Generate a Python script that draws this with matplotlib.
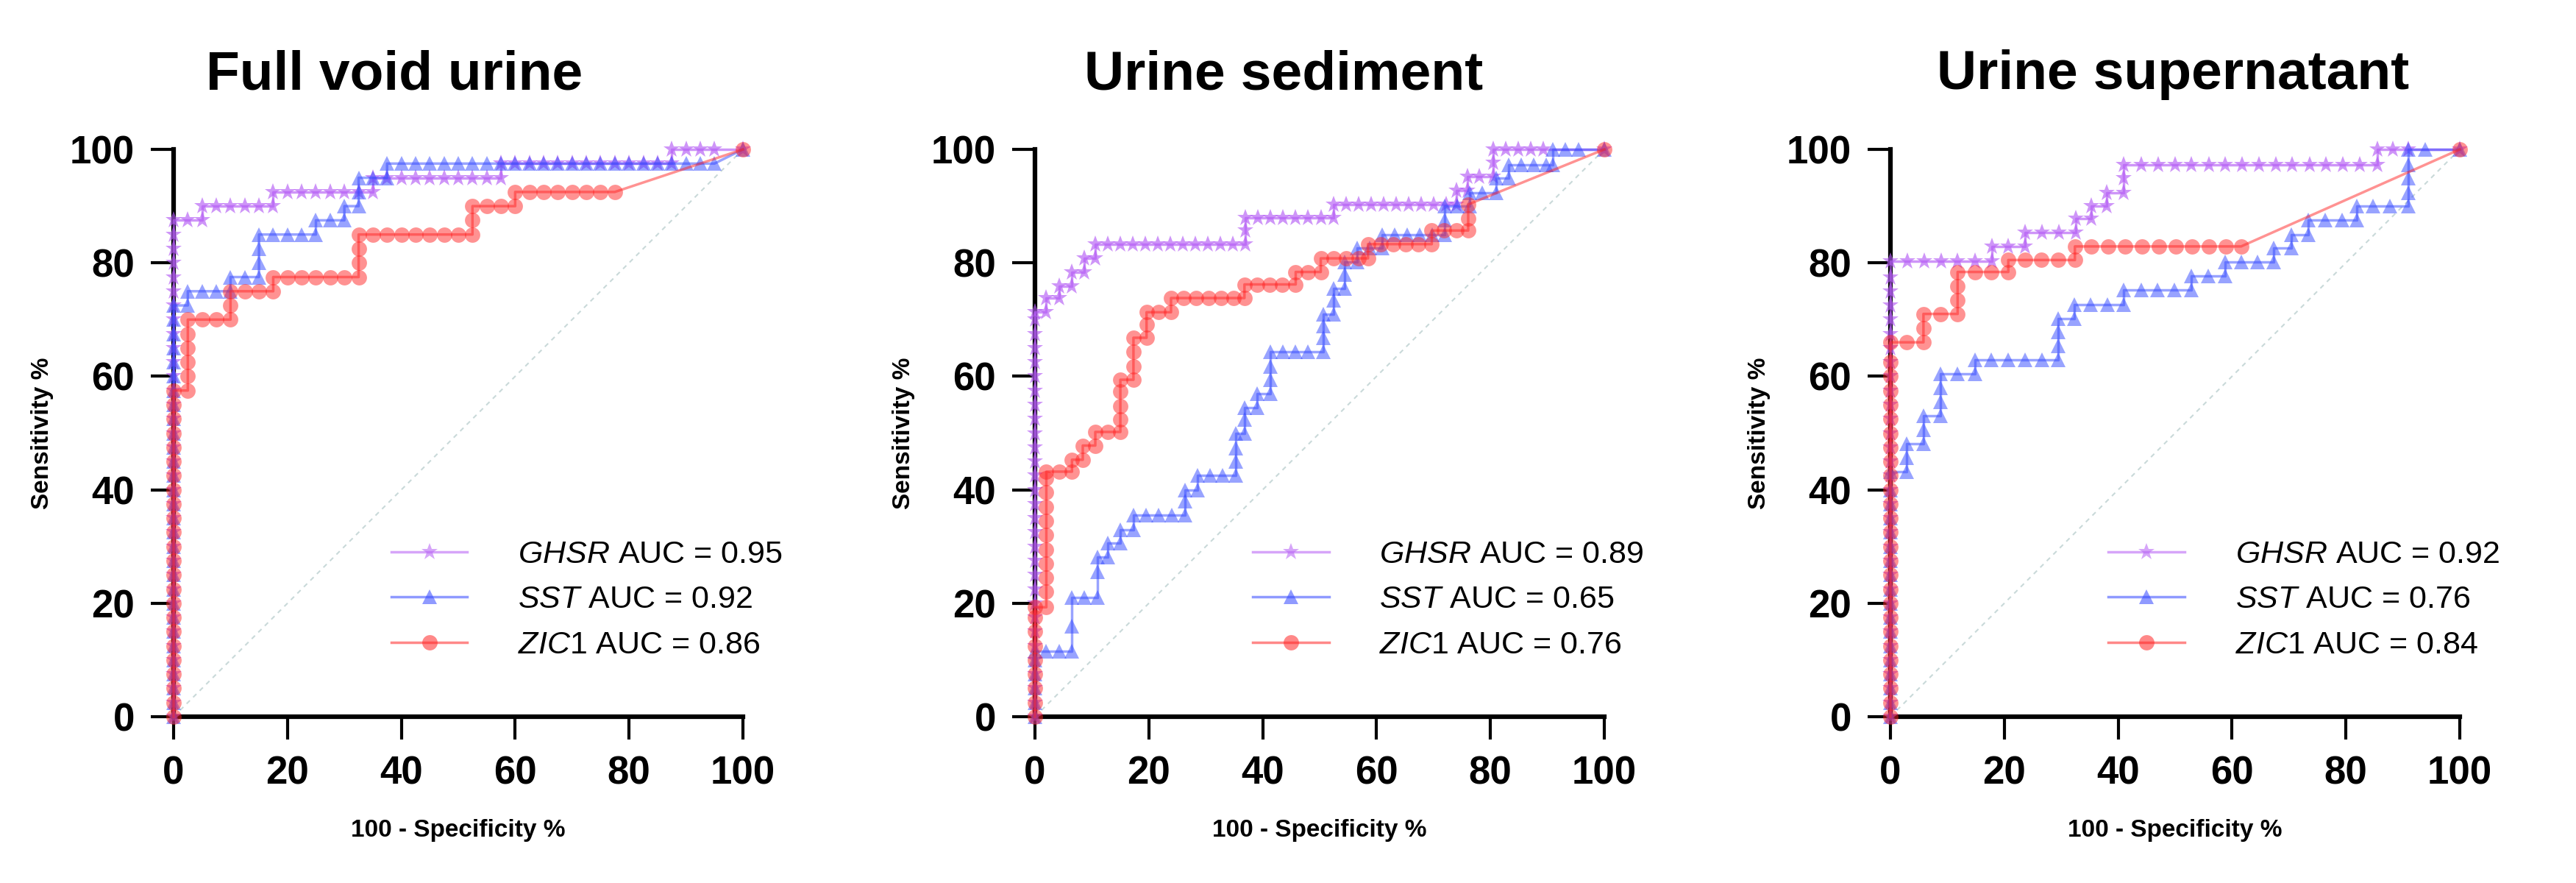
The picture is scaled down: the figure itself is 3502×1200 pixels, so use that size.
"""ROC curves of GHSR, SST and ZIC1 in three urine fractions."""

import matplotlib
matplotlib.use("Agg")
import matplotlib.pyplot as plt

plt.rcParams["font.family"] = ["Liberation Sans", "DejaVu Sans"]
plt.rcParams["mathtext.fontset"] = "custom"
plt.rcParams["mathtext.it"] = "Liberation Sans:italic"
plt.rcParams["mathtext.rm"] = "Liberation Sans"

TITLES = ["Full void urine", "Urine sediment", "Urine supernatant"]
GENES = ["GHSR", "SST", "ZIC1"]
AUC = [[0.95, 0.92, 0.86], [0.89, 0.65, 0.76], [0.92, 0.76, 0.84]]
TICKS = [0, 20, 40, 60, 80, 100]

# vertical runs on the y axis (x = 0)
AXIS_RUN = [0, 2.5, 5, 7.5, 10, 12.5, 15, 17.5, 20, 22.5, 25, 27.5, 30, 32.5, 35,
            37.5, 40, 42.5, 45, 47.5, 50, 52.5, 55, 57.5, 60, 62.5, 65, 67.5, 70]

# ---- Full void urine
P1_GHSR = ([(0, y) for y in AXIS_RUN] +
           [(0, 72.5), (0, 75), (0, 77.5), (0, 80), (0, 82.5), (0, 85), (0, 87.5),
            (2.5, 87.5), (5, 87.5), (5, 90), (7.5, 90), (10, 90), (12.5, 90), (15, 90),
            (17.5, 90), (17.5, 92.5), (20, 92.5), (22.5, 92.5), (25, 92.5), (27.5, 92.5),
            (30, 92.5), (32.5, 92.5), (35, 92.5), (35, 95), (37.5, 95), (40, 95),
            (42.5, 95), (45, 95), (47.5, 95), (50, 95), (52.5, 95), (55, 95), (57.5, 95),
            (57.5, 97.5), (60, 97.5), (62.5, 97.5), (65, 97.5), (67.5, 97.5), (70, 97.5),
            (72.5, 97.5), (75, 97.5), (77.5, 97.5), (80, 97.5), (82.5, 97.5),
            (85, 97.5), (87.5, 97.5), (87.5, 100), (90, 100), (92.5, 100), (95, 100),
            (100, 100)])
P1_SST = ([(0, y) for y in AXIS_RUN] +
          [(0, 72.5), (2.5, 72.5), (2.5, 75), (5, 75), (7.5, 75), (10, 75), (10, 77.5),
           (12.5, 77.5), (15, 77.5), (15, 80), (15, 82.5), (15, 85), (17.5, 85), (20, 85),
           (22.5, 85), (25, 85), (25, 87.5), (27.5, 87.5), (30, 87.5), (30, 90),
           (32.5, 90), (32.5, 92.5), (32.5, 95), (35, 95), (37.5, 95), (37.5, 97.5),
           (40, 97.5), (42.5, 97.5), (45, 97.5), (47.5, 97.5), (50, 97.5), (52.5, 97.5),
           (55, 97.5), (57.5, 97.5), (60, 97.5), (62.5, 97.5), (65, 97.5), (67.5, 97.5),
           (70, 97.5), (72.5, 97.5), (75, 97.5), (77.5, 97.5), (80, 97.5), (82.5, 97.5),
           (85, 97.5), (87.5, 97.5), (90, 97.5), (92.5, 97.5), (95, 97.5), (100, 100)])
P1_ZIC1 = ([(0, y) for y in AXIS_RUN[:24]] +
           [(2.5, 57.5), (2.5, 60), (2.5, 62.5), (2.5, 65), (2.5, 67.5), (2.5, 70),
            (5, 70), (7.5, 70), (10, 70), (10, 72.5), (10, 75), (12.5, 75), (15, 75),
            (17.5, 75), (17.5, 77.5), (20, 77.5), (22.5, 77.5), (25, 77.5), (27.5, 77.5),
            (30, 77.5), (32.5, 77.5), (32.5, 80), (32.5, 82.5), (32.5, 85), (35, 85),
            (37.5, 85), (40, 85), (42.5, 85), (45, 85), (47.5, 85), (50, 85), (52.5, 85),
            (52.5, 87.5), (52.5, 90), (55, 90), (57.5, 90), (60, 90), (60, 92.5),
            (62.5, 92.5), (65, 92.5), (67.5, 92.5), (70, 92.5), (72.5, 92.5),
            (75, 92.5), (77.5, 92.5), (100, 100)])

# ---- Urine sediment
P2_GHSR = ([(0, y) for y in AXIS_RUN] +
           [(0, 71.3), (2, 71.3), (2, 73.8), (4.3, 73.8), (4.3, 75.9), (6.5, 75.9),
            (6.5, 78.4), (8.7, 78.4), (8.7, 80.8), (10.6, 80.8), (10.6, 83.3),
            (12.8, 83.3), (15, 83.3), (17.2, 83.3), (19.4, 83.3), (21.6, 83.3),
            (23.8, 83.3), (26, 83.3), (28.2, 83.3), (30.4, 83.3), (32.6, 83.3),
            (34.8, 83.3), (37, 83.3), (37, 85.7), (37, 88), (39.2, 88), (41.4, 88),
            (43.6, 88), (45.8, 88), (48, 88), (50.2, 88), (52.4, 88), (52.4, 90.3),
            (54.6, 90.3), (56.8, 90.3), (59, 90.3), (61.2, 90.3), (63.4, 90.3),
            (65.6, 90.3), (67.8, 90.3), (70, 90.3), (72.2, 90.3), (74, 90.3), (74, 92.8),
            (76, 92.8), (76, 95.2), (78, 95.2), (80.5, 95.2), (80.5, 97.7), (80.5, 100),
            (82.7, 100), (84.9, 100), (87.1, 100), (89.3, 100), (100, 100)])
P2_SST = ([(0, y) for y in AXIS_RUN[:5]] +
          [(0, 11.6), (2, 11.6), (4.3, 11.6), (6.5, 11.6), (6.5, 16), (6.5, 21), (8.7, 21),
           (11, 21), (11, 25.6), (11, 28.1), (12.8, 28.1), (12.8, 30.6), (15, 30.6),
           (15, 33), (17.3, 33), (17.3, 35.5), (19.5, 35.5), (21.7, 35.5), (24, 35.5),
           (26.3, 35.5), (26.3, 38), (26.3, 40), (28.5, 40), (28.5, 42.5), (30.7, 42.5),
           (33, 42.5), (35.3, 42.5), (35.3, 45), (35.3, 47.4), (35.3, 49.9), (36.8, 49.9),
           (36.8, 52.4), (36.8, 54.5), (39, 54.5), (39, 56.9), (41.3, 56.9), (41.3, 59.4),
           (41.3, 61.8), (41.3, 64.3), (43.5, 64.3), (45.8, 64.3), (48, 64.3),
           (50.6, 64.3), (50.6, 66.8), (50.6, 68.9), (50.6, 71), (52.5, 71), (52.5, 73.4),
           (52.5, 75.5), (54.4, 75.5), (54.4, 78), (54.4, 80.1), (56.6, 80.1),
           (56.6, 82.6), (58.8, 82.6), (61, 82.6), (61, 85), (63.2, 85), (65.4, 85),
           (67.6, 85), (69.8, 85), (72, 85), (72, 87.5), (72, 90), (74.2, 90),
           (76.4, 90), (76.4, 92.4), (78.6, 92.4), (81, 92.4), (81, 94.9), (83.2, 94.9),
           (83.2, 97.3), (85.4, 97.3), (87.6, 97.3), (89.8, 97.3), (91, 97.3), (91, 100),
           (93.2, 100), (95.5, 100), (100, 100)])
P2_ZIC1 = ([(0, y) for y in AXIS_RUN[:8]] +
           [(0, 19.3), (2, 19.3), (2, 22), (2, 24.5), (2, 27), (2, 29.5), (2, 32),
            (2, 34.5), (2, 37), (2, 39.5), (2, 42), (2, 43.2), (4.3, 43.2), (6.5, 43.2),
            (6.5, 45.3), (8.4, 45.3), (8.4, 47.8), (10.6, 47.8), (10.6, 50.2),
            (12.8, 50.2), (15, 50.2), (15, 52.4), (15, 54.8), (15, 57.3), (15, 59.4),
            (17.3, 59.4), (17.3, 61.8), (17.3, 64.3), (17.3, 66.8), (19.6, 66.8),
            (19.6, 69.2), (19.6, 71.3), (21.7, 71.3), (23.9, 71.3), (23.9, 73.8),
            (26.1, 73.8), (28.3, 73.8), (30.5, 73.8), (32.7, 73.8), (34.9, 73.8),
            (36.8, 73.8), (36.8, 76.2), (39, 76.2), (41.2, 76.2), (43.4, 76.2),
            (45.8, 76.2), (45.8, 78.4), (48, 78.4), (50.2, 78.4), (50.2, 80.8),
            (52.4, 80.8), (54.6, 80.8), (56.8, 80.8), (58.5, 80.8), (58.5, 83.3),
            (60.7, 83.3), (62.9, 83.3), (65.1, 83.3), (67.3, 83.3), (69.7, 83.3),
            (69.7, 85.7), (71.9, 85.7), (74.1, 85.7), (76.1, 85.7), (76.1, 87.8),
            (76.1, 90.3), (100, 100)])

# ---- Urine supernatant
P3_GHSR = ([(0, y) for y in AXIS_RUN] +
           [(0, 72.5), (0, 75), (0, 77.5), (0, 80.3), (3, 80.3), (5.9, 80.3), (8.9, 80.3),
            (11.8, 80.3), (14.8, 80.3), (17.8, 80.3), (17.8, 82.9), (20.7, 82.9),
            (23.7, 82.9), (23.7, 85.4), (26.6, 85.4), (29.6, 85.4), (32.6, 85.4),
            (32.6, 87.8), (35.3, 87.8), (35.3, 90), (38, 90), (38, 92.4), (41, 92.4),
            (41, 94.9), (41, 97.3), (44, 97.3), (47, 97.3), (50, 97.3), (52.9, 97.3),
            (55.9, 97.3), (58.8, 97.3), (61.8, 97.3), (64.7, 97.3), (67.7, 97.3),
            (70.6, 97.3), (73.6, 97.3), (76.5, 97.3), (79.5, 97.3), (82.4, 97.3),
            (85.5, 97.3), (85.5, 100), (88.2, 100), (91, 100), (100, 100)])
P3_SST = ([(0, y) for y in AXIS_RUN[:17]] +
          [(0, 43.2), (2.9, 43.2), (2.9, 45.7), (2.9, 48.1), (5.8, 48.1), (5.8, 50.6),
           (5.8, 53), (8.8, 53), (8.8, 55.5), (8.8, 58), (8.8, 60.4), (11.8, 60.4),
           (14.8, 60.4), (14.8, 62.9), (17.7, 62.9), (20.7, 62.9), (23.6, 62.9),
           (26.6, 62.9), (29.5, 62.9), (29.5, 65.4), (29.5, 67.8), (29.5, 70.2),
           (32.3, 70.2), (32.3, 72.7), (35.2, 72.7), (38.1, 72.7), (41, 72.7), (41, 75.2),
           (44, 75.2), (46.9, 75.2), (49.9, 75.2), (52.8, 75.2), (52.8, 77.7),
           (55.8, 77.7), (58.8, 77.7), (58.8, 80.1), (61.6, 80.1), (64.5, 80.1),
           (67.3, 80.1), (67.3, 82.6), (70.4, 82.6), (70.4, 85), (73.4, 85), (73.4, 87.5),
           (76.4, 87.5), (79.3, 87.5), (81.9, 87.5), (81.9, 90), (84.8, 90), (87.7, 90),
           (91, 90), (91, 92.4), (91, 94.9), (91, 97.3), (91, 100), (93.9, 100),
           (100, 100)])
P3_ZIC1 = ([(0, y) for y in AXIS_RUN[:26]] +
           [(0, 66), (2.9, 66), (5.8, 66), (5.8, 68.5), (5.8, 71), (8.8, 71), (11.8, 71),
            (11.8, 73.4), (11.8, 75.9), (11.8, 78.4), (14.8, 78.4), (17.7, 78.4),
            (20.7, 78.4), (20.7, 80.5), (23.6, 80.5), (26.5, 80.5), (29.5, 80.5),
            (32.4, 80.5), (32.4, 82.9), (35.3, 82.9), (38.3, 82.9), (41.2, 82.9),
            (44.2, 82.9), (47.1, 82.9), (50.1, 82.9), (53, 82.9), (56, 82.9),
            (58.9, 82.9), (61.6, 82.9), (100, 100)])

CURVES = [[P1_GHSR, P1_SST, P1_ZIC1], [P2_GHSR, P2_SST, P2_ZIC1],
          [P3_GHSR, P3_SST, P3_ZIC1]]

STYLES = [dict(color="#b55cf5", marker="*", markersize=17, alpha=0.65),
          dict(color="#3348ff", marker="^", markersize=15, alpha=0.5),
          dict(color="#ff2626", marker="o", markersize=15, alpha=0.5)]

LEFTS = [236 / 3502, 1407 / 3502, 2570 / 3502]
TITLE_X = [536 / 3502, 1745 / 3502, 2954 / 3502]

fig = plt.figure(figsize=(35.02, 12), dpi=100)

for i in range(3):
    ax = fig.add_axes([LEFTS[i], 0.1883, 0.221, 0.6425])
    ax.plot([0, 100], [0, 100], ls=(0, (3, 3)), color="#c9d9d9", lw=1.5, zorder=1)
    for gene, auc, pts, st in zip(GENES, AUC[i], CURVES[i], STYLES):
        xs = [p[0] for p in pts]
        ys = [p[1] for p in pts]
        ax.plot(xs, ys, lw=2.5, markeredgewidth=0, clip_on=False, zorder=3,
                label=rf"$\it{{{gene}}}$ AUC = {auc:.2f}", **st)
    ax.set_xlim(0, 100)
    ax.set_ylim(0, 100)
    ax.set_xticks(TICKS)
    ax.set_yticks(TICKS)
    for s in ["top", "right"]:
        ax.spines[s].set_visible(False)
    for s in ["left", "bottom"]:
        ax.spines[s].set_linewidth(4.5)
        ax.spines[s].set_zorder(2)
    ax.tick_params(axis="both", length=22, width=3, labelsize=38, pad=16)
    for lab in ax.get_xticklabels() + ax.get_yticklabels():
        lab.set_fontweight("bold")
    ax.set_xlabel("100 - Specificity %", fontsize=24, fontweight="bold", labelpad=26)
    ax.set_ylabel("Sensitivity %", fontsize=24, fontweight="bold", labelpad=16)
    leg = ax.legend(loc="lower right", bbox_to_anchor=(1.12, 0.05), frameon=False,
                    fontsize=31, handlelength=2.4, handletextpad=1.6,
                    labelspacing=0.5)
    for h in leg.legend_handles:
        h.set_alpha(0.55)
    fig.text(TITLE_X[i], 0.915, TITLES[i], ha="center", va="center",
             fontsize=54, fontweight="bold")

fig.savefig("out.png", dpi=100, facecolor="white")
